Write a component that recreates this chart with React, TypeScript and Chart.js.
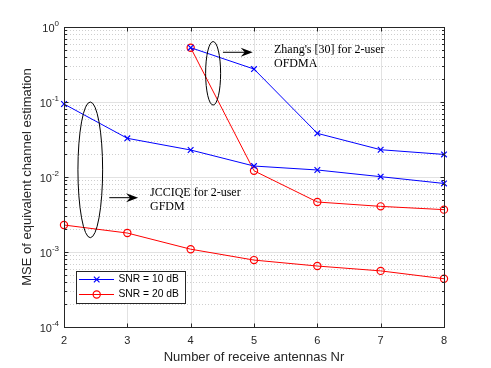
import React, { useEffect, useRef } from "react";
import { Chart, registerables } from "chart.js";

Chart.register(...registerables);

// ---- data ----
const nrAll = [2, 3, 4, 5, 6, 7, 8];
const nrZhang = [4, 5, 6, 7, 8];
const jccSnr10 = [0.094, 0.0328, 0.0229, 0.014, 0.0124, 0.0101, 0.0082];
const zhangSnr10 = [0.53, 0.275, 0.0382, 0.0231, 0.02];
const jccSnr20 = [0.00229, 0.00179, 0.00109, 0.00078, 0.00065, 0.00056, 0.00044];
const zhangSnr20 = [0.53, 0.0121, 0.00464, 0.00406, 0.00367];

const xTicks = [2, 3, 4, 5, 6, 7, 8];
const yExponents = [0, -1, -2, -3, -4];
const legendLabels = ["SNR = 10 dB", "SNR = 20 dB"];
const annZhangLines = ["Zhang's [30] for 2-user", "OFDMA"];
const annJccLines = ["JCCIQE for 2-user", "GFDM"];
const xTitle = "Number of receive antennas Nr";
const yTitle = "MSE of equivalent channel estimation";

const BLUE = "#0000ff";
const RED = "#ff0000";
const AXIS = "#262626";
const SANS = '"Liberation Sans", Arial, Helvetica, sans-serif';
const SERIF = '"Liberation Serif", "Times New Roman", Times, serif';

const pts = (xs: number[], ys: number[]) => xs.map((x, i) => ({ x, y: ys[i] }));

const matlabPlugin = {
  id: "matlabAxes",
  beforeDatasetsDraw(chart: any) {
    const { ctx, chartArea: a, scales } = chart;
    const x = scales.x;
    const y = scales.y;
    ctx.save();
    ctx.lineWidth = 1;
    // minor dotted grid
    ctx.strokeStyle = "#cfcfcf";
    ctx.setLineDash([1, 2]);
    for (let e = -4; e <= -1; e++) {
      for (let m = 2; m <= 9; m++) {
        const py = Math.round(y.getPixelForValue(m * Math.pow(10, e))) + 0.5;
        ctx.beginPath();
        ctx.moveTo(a.left, py);
        ctx.lineTo(a.right, py);
        ctx.stroke();
      }
    }
    // major solid grid
    ctx.setLineDash([]);
    ctx.strokeStyle = "#e2e2e2";
    for (let e = -3; e <= -1; e++) {
      const py = Math.round(y.getPixelForValue(Math.pow(10, e))) + 0.5;
      ctx.beginPath();
      ctx.moveTo(a.left, py);
      ctx.lineTo(a.right, py);
      ctx.stroke();
    }
    for (const xv of xTicks) {
      if (xv === xTicks[0] || xv === xTicks[xTicks.length - 1]) continue;
      const px = Math.round(x.getPixelForValue(xv)) + 0.5;
      ctx.beginPath();
      ctx.moveTo(px, a.top);
      ctx.lineTo(px, a.bottom);
      ctx.stroke();
    }
    ctx.restore();
  },
  afterDraw(chart: any) {
    const { ctx, chartArea: a, scales } = chart;
    const x = scales.x;
    const y = scales.y;
    ctx.save();
    // box
    ctx.strokeStyle = AXIS;
    ctx.lineWidth = 1;
    const L = Math.round(a.left) + 0.5;
    const R = Math.round(a.right) + 0.5;
    const T = Math.round(a.top) + 0.5;
    const B = Math.round(a.bottom) + 0.5;
    ctx.strokeRect(L, T, R - L, B - T);
    // x ticks
    ctx.beginPath();
    for (const xv of xTicks) {
      const px = Math.round(x.getPixelForValue(xv)) + 0.5;
      ctx.moveTo(px, B);
      ctx.lineTo(px, B - 4);
      ctx.moveTo(px, T);
      ctx.lineTo(px, T + 4);
    }
    // y ticks
    for (let e = -4; e <= 0; e++) {
      const py = Math.round(y.getPixelForValue(Math.pow(10, e))) + 0.5;
      ctx.moveTo(L, py);
      ctx.lineTo(L + 4, py);
      ctx.moveTo(R, py);
      ctx.lineTo(R - 4, py);
      if (e < 0) {
        for (let m = 2; m <= 9; m++) {
          const pm = Math.round(y.getPixelForValue(m * Math.pow(10, e))) + 0.5;
          ctx.moveTo(L, pm);
          ctx.lineTo(L + 2.5, pm);
          ctx.moveTo(R, pm);
          ctx.lineTo(R - 2.5, pm);
        }
      }
    }
    ctx.stroke();

    // tick labels
    ctx.fillStyle = AXIS;
    ctx.font = `11px ${SANS}`;
    ctx.textAlign = "center";
    ctx.textBaseline = "middle";
    for (const xv of xTicks) {
      ctx.fillText(String(xv), x.getPixelForValue(xv), a.bottom + 14);
    }
    ctx.textAlign = "left";
    for (const e of yExponents) {
      const py = y.getPixelForValue(Math.pow(10, e));
      const sup = String(e);
      ctx.font = `8px ${SANS}`;
      const ws = ctx.measureText(sup).width;
      ctx.font = `11px ${SANS}`;
      const wb = ctx.measureText("10").width;
      const right = a.left - 5;
      ctx.fillText("10", right - ws - wb, py + 2);
      ctx.font = `8px ${SANS}`;
      ctx.fillText(sup, right - ws, py - 3);
    }

    // axis titles
    ctx.font = `13px ${SANS}`;
    ctx.textAlign = "center";
    ctx.textBaseline = "middle";
    ctx.fillText(xTitle, (a.left + a.right) / 2, 357);
    ctx.save();
    ctx.translate(27, (a.top + a.bottom) / 2);
    ctx.rotate(-Math.PI / 2);
    ctx.fillText(yTitle, 0, 0);
    ctx.restore();

    // annotations
    ctx.strokeStyle = "#000000";
    ctx.fillStyle = "#000000";
    ctx.lineWidth = 1;
    const ellipse = (x0: number, x1: number, y0: number, y1: number) => {
      const px0 = x.getPixelForValue(x0);
      const px1 = x.getPixelForValue(x1);
      const py0 = y.getPixelForValue(y0);
      const py1 = y.getPixelForValue(y1);
      ctx.beginPath();
      ctx.ellipse((px0 + px1) / 2, (py0 + py1) / 2, Math.abs(px1 - px0) / 2, Math.abs(py1 - py0) / 2, 0, 0, Math.PI * 2);
      ctx.stroke();
    };
    const arrow = (x0: number, x1: number, yv: number) => {
      const px0 = x.getPixelForValue(x0);
      const px1 = x.getPixelForValue(x1);
      const py = y.getPixelForValue(yv);
      ctx.beginPath();
      ctx.moveTo(px0, py);
      ctx.lineTo(px1 - 6, py);
      ctx.stroke();
      ctx.beginPath();
      ctx.moveTo(px1, py);
      ctx.lineTo(px1 - 12, py - 4.5);
      ctx.lineTo(px1 - 8, py);
      ctx.lineTo(px1 - 12, py + 4.5);
      ctx.closePath();
      ctx.fill();
    };
    ellipse(2.22, 2.61, 0.1, 0.00155);
    ellipse(4.236, 4.473, 0.64, 0.091);
    arrow(4.51, 4.98, 0.46);
    arrow(2.715, 3.17, 0.0053);
    ctx.font = `12px ${SERIF}`;
    ctx.textAlign = "left";
    ctx.textBaseline = "middle";
    const textBlock = (lines: string[], xv: number, yv: number) => {
      const px = x.getPixelForValue(xv);
      const py = y.getPixelForValue(yv);
      lines.forEach((s, i) => ctx.fillText(s, px, py + i * 14));
    };
    textBlock(annZhangLines, 5.316, 0.5);
    textBlock(annJccLines, 3.358, 0.00607);

    // legend
    const lx = 76.5, ly = 271.5, lw = 109, lh = 32;
    ctx.fillStyle = "#ffffff";
    ctx.fillRect(lx, ly, lw, lh);
    ctx.strokeStyle = AXIS;
    ctx.lineWidth = 1;
    ctx.strokeRect(lx, ly, lw, lh);
    const rows = [
      { label: legendLabels[0], color: BLUE, style: "x", yy: 279.5 },
      { label: legendLabels[1], color: RED, style: "o", yy: 294.5 },
    ];
    for (const r of rows) {
      ctx.strokeStyle = r.color;
      ctx.lineWidth = 1;
      ctx.beginPath();
      ctx.moveTo(79, r.yy);
      ctx.lineTo(114, r.yy);
      ctx.stroke();
      const mx = 96.7;
      ctx.lineWidth = 1.2;
      ctx.beginPath();
      if (r.style === "x") {
        ctx.moveTo(mx - 2.8, r.yy - 2.8);
        ctx.lineTo(mx + 2.8, r.yy + 2.8);
        ctx.moveTo(mx - 2.8, r.yy + 2.8);
        ctx.lineTo(mx + 2.8, r.yy - 2.8);
      } else {
        ctx.arc(mx, r.yy, 3.6, 0, Math.PI * 2);
      }
      ctx.stroke();
      ctx.fillStyle = "#000000";
      ctx.font = `10.3px ${SANS}`;
      ctx.textAlign = "left";
      ctx.textBaseline = "middle";
      ctx.fillText(r.label, 118.5, r.yy);
    }
    ctx.restore();
  },
};

export default function App() {
  const canvasRef = useRef<HTMLCanvasElement | null>(null);

  useEffect(() => {
    const canvas = canvasRef.current;
    if (!canvas) return;
    const common = {
      borderWidth: 1,
      pointRadius: 4,
      pointBorderWidth: 1.2,
      pointBackgroundColor: "rgba(0,0,0,0)",
      tension: 0,
      clip: false as any,
      fill: false,
    };
    const chart = new Chart(canvas, {
      type: "line",
      data: {
        datasets: [
          { ...common, label: "JCCIQE SNR=10", data: pts(nrAll, jccSnr10), borderColor: BLUE, pointBorderColor: BLUE, pointStyle: "crossRot" },
          { ...common, label: "Zhang SNR=10", data: pts(nrZhang, zhangSnr10), borderColor: BLUE, pointBorderColor: BLUE, pointStyle: "crossRot" },
          { ...common, label: "JCCIQE SNR=20", data: pts(nrAll, jccSnr20), borderColor: RED, pointBorderColor: RED, pointStyle: "circle", pointRadius: 3.6 },
          { ...common, label: "Zhang SNR=20", data: pts(nrZhang, zhangSnr20), borderColor: RED, pointBorderColor: RED, pointStyle: "circle", pointRadius: 3.6 },
        ] as any,
      },
      options: {
        animation: false,
        responsive: false,
        devicePixelRatio: 1,
        layout: { padding: { top: 27, right: 47, left: 0, bottom: 0 } },
        plugins: {
          legend: { display: false },
          tooltip: { enabled: false },
        },
        scales: {
          x: {
            type: "linear",
            min: 2,
            max: 8,
            ticks: { display: false, stepSize: 1 },
            grid: { display: false },
            border: { display: false },
            afterFit: (s: any) => { s.height = 41; },
          },
          y: {
            type: "logarithmic",
            min: 1e-4,
            max: 1,
            ticks: { display: false },
            grid: { display: false },
            border: { display: false },
            afterFit: (s: any) => { s.width = 64; },
          },
        },
      } as any,
      plugins: [matlabPlugin as any],
    });
    return () => chart.destroy();
  }, []);

  return (
    <div style={{ position: "absolute", left: 0, top: 0, width: 491, height: 368, background: "#ffffff" }}>
      <canvas ref={canvasRef} width={491} height={368} style={{ width: 491, height: 368, display: "block" }} />
    </div>
  );
}
